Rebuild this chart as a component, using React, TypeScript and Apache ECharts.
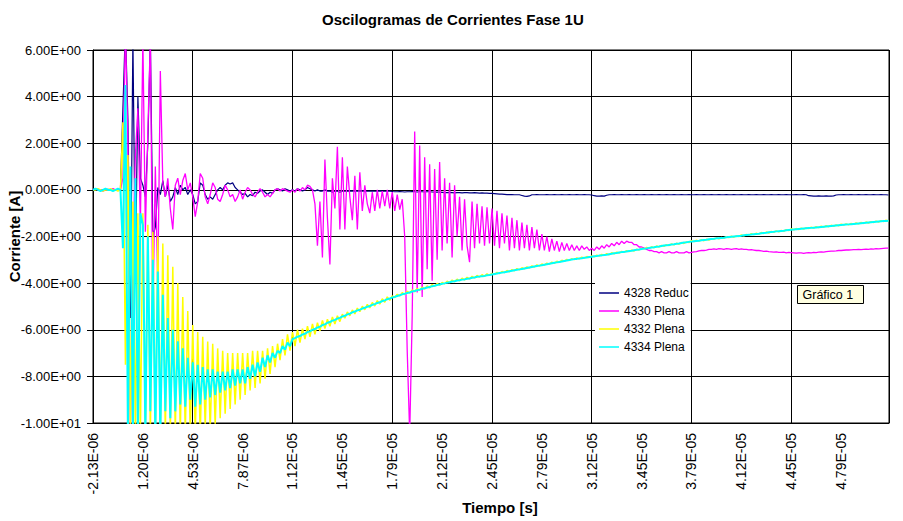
import React, { useEffect, useRef } from "react";
import * as echarts from "echarts";

// Tick labels (time axis: one label every 3.33E-06 s, 20 samples per label step)
const xTickLabels = [
  "-2.13E-06", "1.20E-06", "4.53E-06", "7.87E-06", "1.12E-05", "1.45E-05",
  "1.79E-05", "2.12E-05", "2.45E-05", "2.79E-05", "3.12E-05", "3.45E-05",
  "3.79E-05", "4.12E-05", "4.45E-05", "4.79E-05",
];
const yTickLabels = [
  "-1.00E+01", "-8.00E+00", "-6.00E+00", "-4.00E+00", "-2.00E+00",
  "0.00E+00", "2.00E+00", "4.00E+00", "6.00E+00",
];
const SAMPLES_PER_LABEL = 20;
const X_MAX = 15.96;

const seriesNames = ["4328 Reduc", "4330 Plena", "4332 Plena", "4334 Plena"];
const seriesColors = ["#000080", "#FF00FF", "#FFFF00", "#00FFFF"];

// 4328 Reduc
const reduc4328 = [
  0, 0.02, 0, -0.02, 0, 0, 0.02, 0, 0, -0.02, 0, 0, 3.5, 7, 3.0, -5.5, 6.5, -3.5, 4.0, 0.5,
  0.2, -0.3, 2.0, 6.5, -2.0, -1.6, 0.1, -0.2, 0.4, -0.3, 0.2, -0.5, -0.3, 0.1, -0.2, 0.2, 0.0, 0.1, -0.2, 0.0,
  -0.2, -0.6, -0.5, 0.3, 0.2, -0.2, -0.4, -0.3, -0.4, -0.2, 0.0, 0.1, 0.0, 0.2, 0.3, 0.25, 0.3, 0.1, 0.0, -0.1,
  -0.2, -0.15, -0.3, -0.2, -0.25, -0.1, -0.15, -0.05, 0.0, -0.1, -0.2, -0.1, -0.15, 0.0, 0.05, 0.0, -0.05, 0.05, 0.0, -0.05,
  0.0, -0.05, 0.05, 0.0, -0.05, 0.0, 0.1, 0.05, 0.0, -0.05, 0.0, -0.05, -0.05, 0.0, -0.05, -0.05, -0.1, -0.05, -0.05, -0.1,
  -0.05, -0.06, -0.05, -0.04, -0.05, -0.06, -0.05, -0.05, -0.04, -0.05, -0.06, -0.05, -0.05, -0.06, -0.05, -0.04, -0.05, -0.06, -0.05, -0.05,
  -0.07, -0.08, -0.08, -0.07, -0.08, -0.09, -0.08, -0.08, -0.07, -0.08, -0.09, -0.08, -0.08, -0.09, -0.08, -0.08, -0.09, -0.1, -0.1, -0.1,
  -0.11, -0.12, -0.12, -0.11, -0.12, -0.13, -0.12, -0.12, -0.13, -0.12, -0.12, -0.13, -0.13, -0.12, -0.13, -0.14, -0.13, -0.14, -0.14, -0.15,
  -0.15, -0.16, -0.17, -0.18, -0.18, -0.19, -0.2, -0.2, -0.2, -0.21, -0.21, -0.21, -0.24, -0.27, -0.28, -0.26, -0.21, -0.21, -0.2, -0.21,
  -0.21, -0.21, -0.2, -0.21, -0.21, -0.2, -0.21, -0.21, -0.2, -0.21, -0.21, -0.2, -0.21, -0.21, -0.2, -0.21, -0.21, -0.2, -0.21, -0.21,
  -0.22, -0.25, -0.27, -0.27, -0.26, -0.27, -0.23, -0.21, -0.21, -0.2, -0.21, -0.21, -0.2, -0.21, -0.21, -0.2, -0.21, -0.21, -0.2, -0.21,
  -0.21, -0.2, -0.21, -0.21, -0.2, -0.21, -0.21, -0.2, -0.21, -0.21, -0.2, -0.21, -0.21, -0.2, -0.21, -0.21, -0.2, -0.21, -0.21, -0.2,
  -0.21, -0.21, -0.2, -0.21, -0.21, -0.2, -0.21, -0.21, -0.2, -0.21, -0.21, -0.2, -0.21, -0.21, -0.2, -0.21, -0.21, -0.2, -0.21, -0.21,
  -0.2, -0.21, -0.21, -0.2, -0.21, -0.21, -0.2, -0.21, -0.21, -0.2, -0.21, -0.21, -0.2, -0.21, -0.21, -0.2, -0.21, -0.21, -0.2, -0.21,
  -0.21, -0.21, -0.2, -0.21, -0.21, -0.2, -0.21, -0.25, -0.26, -0.27, -0.27, -0.26, -0.27, -0.27, -0.26, -0.27, -0.27, -0.26, -0.22, -0.21,
  -0.21, -0.2, -0.21, -0.21, -0.2, -0.21, -0.21, -0.2, -0.21, -0.21, -0.2, -0.21, -0.21, -0.2, -0.21, -0.21, -0.2, -0.21, -0.21, -0.22,
];

// 4330 Plena
const plena4330 = [
  0, 0.05, 0, 0, -0.05, 0, 0, 0, 0.05, 0, 0, 0, 0.5, 7, 2.0, -10.5, -2.7, 1.5, 3.5, -1.5,
  6.5, -1.8, 2.5, 6.5, -5.3, 1.0, -4.2, 5.1, 0.3, -0.3, 0.5, -0.8, -1.7, 0.2, 0.5, -0.2, 0.4, 0.7, 0.0, 0.3,
  -0.3, -1.15, -0.5, 0.7, 0.5, -0.3, -0.6, -0.2, 0.3, 0.1, -0.4, -0.5, -0.2, 0.2, 0.0, -0.3, -0.2, -0.5, -0.3, 0.0,
  -0.4, -0.1, 0.1, 0.0, -0.2, -0.3, -0.1, 0.05, -0.1, -0.3, -0.2, -0.3, -0.15, 0.0, 0.05, -0.05, 0.05, 0.0, -0.05, -0.1,
  0.0, -0.1, 0.05, -0.05, 0.1, 0.0, 0.2, 0.15, 0.0, -0.6, -2.4, -0.5, -2.9, 1.3, -1.2, -3.2, 0.5, -0.8, 1.85, -1.7,
  1.4, -1.7, 1.0, -0.3, -1.3, 0.6, -1.7, 0.75, -0.9, 0.2, -0.6, -1.0, -0.1, -0.9, 0.0, -0.8, -0.05, -0.7, 0.0, -0.8,
  -0.1, -0.9, -0.2, -0.85, -0.4, -2.0, -6.9, -10.5, -5.4, 2.5, -4.4, 1.9, -4.6, 1.4, -3.4, 1.1, -3.9, 0.9, -3.0, 1.2,
  -2.6, 0.5, -2.3, 0.3, -2.9, 0.2, -2.0, -0.3, -2.6, -0.4, -2.4, -3.1, -0.5, -2.5, -0.6, -2.3, -0.7, -2.4, -0.75, -2.3,
  -0.8, -2.4, -0.9, -2.5, -1.0, -2.3, -1.1, -2.6, -1.2, -2.5, -1.3, -2.6, -1.4, -2.5, -1.5, -2.6, -1.6, -2.5, -1.7, -2.6,
  -1.9, -2.6, -2.0, -2.65, -2.1, -2.6, -2.2, -2.65, -2.25, -2.6, -2.3, -2.6, -2.35, -2.6, -2.4, -2.6, -2.4, -2.55, -2.45, -2.6,
  -2.5, -2.6, -2.45, -2.55, -2.4, -2.5, -2.35, -2.45, -2.3, -2.4, -2.25, -2.35, -2.2, -2.3, -2.2, -2.25, -2.25, -2.35, -2.35, -2.45,
  -2.45, -2.5, -2.55, -2.6, -2.6, -2.65, -2.65, -2.7, -2.65, -2.7, -2.7, -2.65, -2.7, -2.7, -2.65, -2.7, -2.7, -2.7, -2.65, -2.7,
  -2.68, -2.66, -2.65, -2.62, -2.6, -2.6, -2.58, -2.55, -2.55, -2.53, -2.55, -2.52, -2.53, -2.55, -2.52, -2.53, -2.55, -2.53, -2.52, -2.55,
  -2.53, -2.55, -2.55, -2.57, -2.56, -2.58, -2.6, -2.6, -2.62, -2.64, -2.63, -2.65, -2.66, -2.67, -2.66, -2.68, -2.68, -2.67, -2.7, -2.68,
  -2.69, -2.7, -2.71, -2.7, -2.7, -2.72, -2.7, -2.69, -2.7, -2.68, -2.69, -2.67, -2.66, -2.67, -2.65, -2.64, -2.63, -2.63, -2.62, -2.6,
  -2.6, -2.59, -2.58, -2.58, -2.57, -2.56, -2.56, -2.55, -2.56, -2.55, -2.54, -2.55, -2.53, -2.54, -2.52, -2.53, -2.52, -2.51, -2.5, -2.5,
];

// 4332 Plena
const plena4332 = [
  0, 0, 0.05, 0, -0.05, 0, 0, 0.05, 0, 0, -0.05, 0, 2.9, -7.5, 1.5, -10.5, -0.5, -10.5, -1.0, -10.5,
  -1.0, -10.5, -1.5, -10.5, -1.8, -10.5, -2.0, -10.5, -2.3, -10.5, -2.8, -10.5, -3.3, -10.5, -4.0, -10.5, -4.6, -10.5, -5.2, -10.5,
  -5.8, -10.5, -6.1, -10.5, -6.3, -10.2, -6.5, -10.3, -6.6, -10.1, -6.8, -9.8, -6.9, -9.6, -7.0, -9.4, -7.0, -9.2, -7.0, -9.0,
  -7.0, -8.8, -7.0, -8.6, -6.9, -8.5, -6.9, -8.3, -6.9, -8.1, -6.8, -7.9, -6.7, -7.6, -6.6, -7.3, -6.4, -7.1, -6.2, -6.9,
  -6.1, -6.7, -6.0, -6.55, -5.95, -6.4, -5.85, -6.3, -5.75, -6.2, -5.7, -6.05, -5.6, -5.95, -5.55, -5.85, -5.45, -5.75, -5.4, -5.65,
  -5.33, -5.5, -5.24, -5.4, -5.15, -5.32, -5.07, -5.22, -4.99, -5.14, -4.91, -5.06, -4.83, -4.98, -4.75, -4.9, -4.67, -4.82, -4.59, -4.74,
  -4.55, -4.62, -4.48, -4.55, -4.41, -4.49, -4.35, -4.43, -4.29, -4.37, -4.23, -4.31, -4.17, -4.25, -4.12, -4.2, -4.06, -4.14, -4.01, -4.09,
  -3.97, -4.03, -3.92, -3.98, -3.87, -3.94, -3.83, -3.9, -3.79, -3.86, -3.75, -3.82, -3.71, -3.78, -3.67, -3.74, -3.64, -3.71, -3.6, -3.67,
  -3.58, -3.63, -3.54, -3.59, -3.5, -3.55, -3.46, -3.51, -3.42, -3.47, -3.38, -3.43, -3.34, -3.39, -3.3, -3.35, -3.26, -3.31, -3.22, -3.27,
  -3.18, -3.23, -3.14, -3.19, -3.1, -3.15, -3.06, -3.11, -3.02, -3.07, -2.98, -3.03, -2.95, -2.99, -2.92, -2.96, -2.89, -2.93, -2.86, -2.9,
  -2.83, -2.87, -2.8, -2.84, -2.77, -2.81, -2.74, -2.78, -2.7, -2.74, -2.67, -2.71, -2.64, -2.68, -2.61, -2.65, -2.58, -2.62, -2.55, -2.58,
  -2.5, -2.54, -2.47, -2.51, -2.44, -2.48, -2.41, -2.45, -2.38, -2.42, -2.35, -2.39, -2.32, -2.36, -2.29, -2.33, -2.26, -2.3, -2.23, -2.26,
  -2.18, -2.22, -2.16, -2.2, -2.14, -2.18, -2.12, -2.15, -2.09, -2.12, -2.06, -2.1, -2.04, -2.08, -2.01, -2.05, -1.99, -2.03, -1.97, -2.0,
  -1.93, -1.97, -1.91, -1.95, -1.88, -1.92, -1.86, -1.9, -1.83, -1.87, -1.81, -1.85, -1.78, -1.82, -1.76, -1.8, -1.74, -1.78, -1.71, -1.75,
  -1.67, -1.71, -1.66, -1.7, -1.64, -1.68, -1.62, -1.66, -1.6, -1.64, -1.58, -1.62, -1.56, -1.6, -1.54, -1.58, -1.52, -1.56, -1.5, -1.54,
  -1.47, -1.51, -1.46, -1.5, -1.44, -1.48, -1.42, -1.46, -1.4, -1.44, -1.38, -1.42, -1.36, -1.4, -1.34, -1.38, -1.32, -1.36, -1.3, -1.34,
];

// 4334 Plena
const plena4334 = [
  0, 0.05, 0, -0.05, 0, 0.05, 0, 0, -0.05, 0, 0.05, 0, -2.5, 4.5, -10.5, 1.0, -10.5, 0.5, -10.5, -1.0,
  -1.5, -10.5, -2.0, -9.5, -3.0, -10.5, -3.5, -10.5, -4.5, -9.5, -5.5, -9.8, -6.0, -9.5, -6.5, -9.2, -6.8, -9.3, -7.2, -9.0,
  -7.4, -9.3, -7.5, -9.2, -7.6, -9.0, -7.7, -8.9, -7.7, -8.8, -7.8, -8.7, -7.8, -8.6, -7.8, -8.5, -7.7, -8.4, -7.7, -8.3,
  -7.7, -8.3, -7.6, -8.1, -7.5, -8.0, -7.4, -7.8, -7.2, -7.6, -7.1, -7.4, -7.0, -7.2, -6.9, -7.0, -6.7, -6.85, -6.55, -6.7,
  -6.4, -6.36, -6.3, -6.27, -6.2, -6.17, -6.1, -6.07, -6.0, -5.97, -5.9, -5.87, -5.8, -5.77, -5.7, -5.67, -5.61, -5.58, -5.52, -5.49,
  -5.43, -5.4, -5.34, -5.31, -5.25, -5.22, -5.17, -5.14, -5.09, -5.06, -5.01, -4.98, -4.93, -4.9, -4.85, -4.82, -4.77, -4.74, -4.69, -4.66,
  -4.62, -4.59, -4.55, -4.52, -4.48, -4.46, -4.42, -4.4, -4.36, -4.34, -4.3, -4.28, -4.24, -4.22, -4.19, -4.17, -4.13, -4.11, -4.08, -4.06,
  -4.03, -4.01, -3.98, -3.96, -3.93, -3.92, -3.89, -3.88, -3.85, -3.84, -3.81, -3.8, -3.77, -3.76, -3.73, -3.72, -3.7, -3.69, -3.66, -3.65,
  -3.63, -3.61, -3.59, -3.57, -3.55, -3.53, -3.51, -3.49, -3.47, -3.45, -3.43, -3.41, -3.39, -3.37, -3.35, -3.33, -3.31, -3.29, -3.27, -3.25,
  -3.23, -3.21, -3.19, -3.17, -3.15, -3.13, -3.11, -3.09, -3.07, -3.05, -3.03, -3.01, -2.99, -2.97, -2.96, -2.94, -2.93, -2.91, -2.9, -2.88,
  -2.87, -2.85, -2.84, -2.82, -2.81, -2.79, -2.78, -2.76, -2.74, -2.72, -2.71, -2.69, -2.67, -2.66, -2.64, -2.62, -2.61, -2.59, -2.57, -2.56,
  -2.54, -2.52, -2.51, -2.49, -2.47, -2.46, -2.44, -2.43, -2.41, -2.39, -2.38, -2.36, -2.34, -2.33, -2.31, -2.3, -2.28, -2.26, -2.25, -2.23,
  -2.22, -2.2, -2.19, -2.18, -2.16, -2.15, -2.14, -2.12, -2.11, -2.1, -2.08, -2.07, -2.06, -2.05, -2.03, -2.02, -2.01, -2.0, -1.99, -1.98,
  -1.97, -1.95, -1.94, -1.93, -1.91, -1.9, -1.89, -1.88, -1.86, -1.85, -1.84, -1.82, -1.81, -1.8, -1.78, -1.77, -1.76, -1.75, -1.73, -1.72,
  -1.71, -1.7, -1.69, -1.68, -1.67, -1.66, -1.65, -1.64, -1.63, -1.62, -1.61, -1.6, -1.59, -1.58, -1.57, -1.56, -1.55, -1.54, -1.53, -1.52,
  -1.51, -1.5, -1.49, -1.48, -1.47, -1.46, -1.45, -1.44, -1.43, -1.42, -1.41, -1.4, -1.39, -1.38, -1.37, -1.36, -1.35, -1.34, -1.33, -1.32,
];

const seriesValues = [reduc4328, plena4330, plena4332, plena4334];
const lineWidths = [1.2, 1.3, 1.5, 2];

const FONT = "'Liberation Sans', Arial, sans-serif";

export default function App() {
  const ref = useRef<HTMLDivElement>(null);

  useEffect(() => {
    if (!ref.current) return;
    const chart = echarts.init(ref.current, undefined, { renderer: "svg" });

    const isInt = (v: number) => Math.abs(v - Math.round(v)) < 1e-6;

    const option: any = {
      animation: false,
      backgroundColor: "#ffffff",
      textStyle: { fontFamily: FONT },
      title: {
        text: "Oscilogramas de Corrientes Fase 1U",
        left: 317,
        top: 7,
        padding: 5,
        textStyle: { fontFamily: FONT, fontSize: 15, fontWeight: "bold", color: "#000" },
      },
      grid: {
        left: 93,
        right: 14,
        top: 50,
        bottom: 98,
        show: true,
        borderColor: "#000",
        borderWidth: 1,
        backgroundColor: "transparent",
        containLabel: false,
        outerBoundsMode: "none",
      },
      legend: {
        orient: "vertical",
        left: 595,
        top: 282,
        padding: [4, 2, 6, 4],
        icon: "rect",
        itemWidth: 20,
        itemHeight: 1.5,
        itemGap: 4,
        backgroundColor: "#ffffff",
        textStyle: { fontFamily: FONT, fontSize: 12, color: "#000", lineHeight: 14 },
        data: seriesNames,
        selectedMode: false,
      },
      xAxis: [
        {
          type: "value",
          min: 0,
          max: X_MAX,
          interval: 1,
          position: "bottom",
          axisLine: { show: true, onZero: false, lineStyle: { color: "#000", width: 1 } },
          axisTick: { show: false },
          splitLine: { show: false },
          axisLabel: {
            rotate: 90,
            margin: 10,
            fontSize: 14,
            fontFamily: FONT,
            color: "#000",
            showMinLabel: true,
            showMaxLabel: true,
            formatter: (v: number) => (isInt(v) ? xTickLabels[Math.round(v)] ?? "" : ""),
          },
          name: "Tiempo [s]",
          nameLocation: "middle",
          nameGap: 77,
          nameMoveOverlap: false,
          nameTextStyle: {
            fontFamily: FONT,
            fontSize: 15,
            fontWeight: "bold",
            color: "#000",
            padding: [0, 0, 0, 18],
            verticalAlign: "top",
          },
        },
        {
          type: "value",
          min: 0,
          max: X_MAX,
          interval: 2,
          position: "bottom",
          axisLine: { show: false },
          axisTick: { show: false },
          axisLabel: { show: false },
          splitLine: { show: true, lineStyle: { color: "#000", width: 1 } },
        },
      ],
      yAxis: {
        type: "value",
        min: -10,
        max: 6,
        interval: 2,
        axisLine: { show: true, onZero: false, lineStyle: { color: "#000", width: 1 } },
        axisTick: { show: true, inside: false, length: 6, lineStyle: { color: "#000" } },
        splitLine: { show: true, lineStyle: { color: "#000", width: 1 } },
        axisLabel: {
          margin: 12,
          fontSize: 13,
          fontFamily: FONT,
          color: "#000",
          formatter: (v: number) => yTickLabels[Math.round((v + 10) / 2)] ?? "",
        },
        name: "Corriente [A]",
        nameLocation: "middle",
        nameGap: 71,
        nameMoveOverlap: false,
        nameTextStyle: { fontFamily: FONT, fontSize: 15, fontWeight: "bold", color: "#000" },
      },
      graphic: [
        {
          type: "group",
          left: 797,
          top: 285,
          children: [
            {
              type: "rect",
              shape: { x: 0, y: 0, width: 66, height: 18 },
              style: { fill: "#FFFFE1", stroke: "#000", lineWidth: 1 },
            },
            {
              type: "text",
              x: 5,
              y: 9,
              style: {
                text: "Gráfico 1",
                fill: "#000",
                fontSize: 12.5,
                fontFamily: FONT,
                verticalAlign: "middle",
                align: "left",
              },
            },
          ],
        },
      ],
      series: seriesValues.map((vals, s) => ({
        name: seriesNames[s],
        type: "line",
        xAxisIndex: 0,
        yAxisIndex: 0,
        symbol: "none",
        showSymbol: false,
        clip: true,
        silent: true,
        color: seriesColors[s],
        lineStyle: { color: seriesColors[s], width: lineWidths[s] },
        emphasis: { disabled: true },
        data: vals.map((v, i) => [i / SAMPLES_PER_LABEL, v]),
      })),
    };

    chart.setOption(option);
    return () => chart.dispose();
  }, []);

  return (
    <div
      ref={ref}
      style={{ position: "fixed", left: 0, top: 0, width: 903, height: 521, background: "#fff" }}
    />
  );
}
